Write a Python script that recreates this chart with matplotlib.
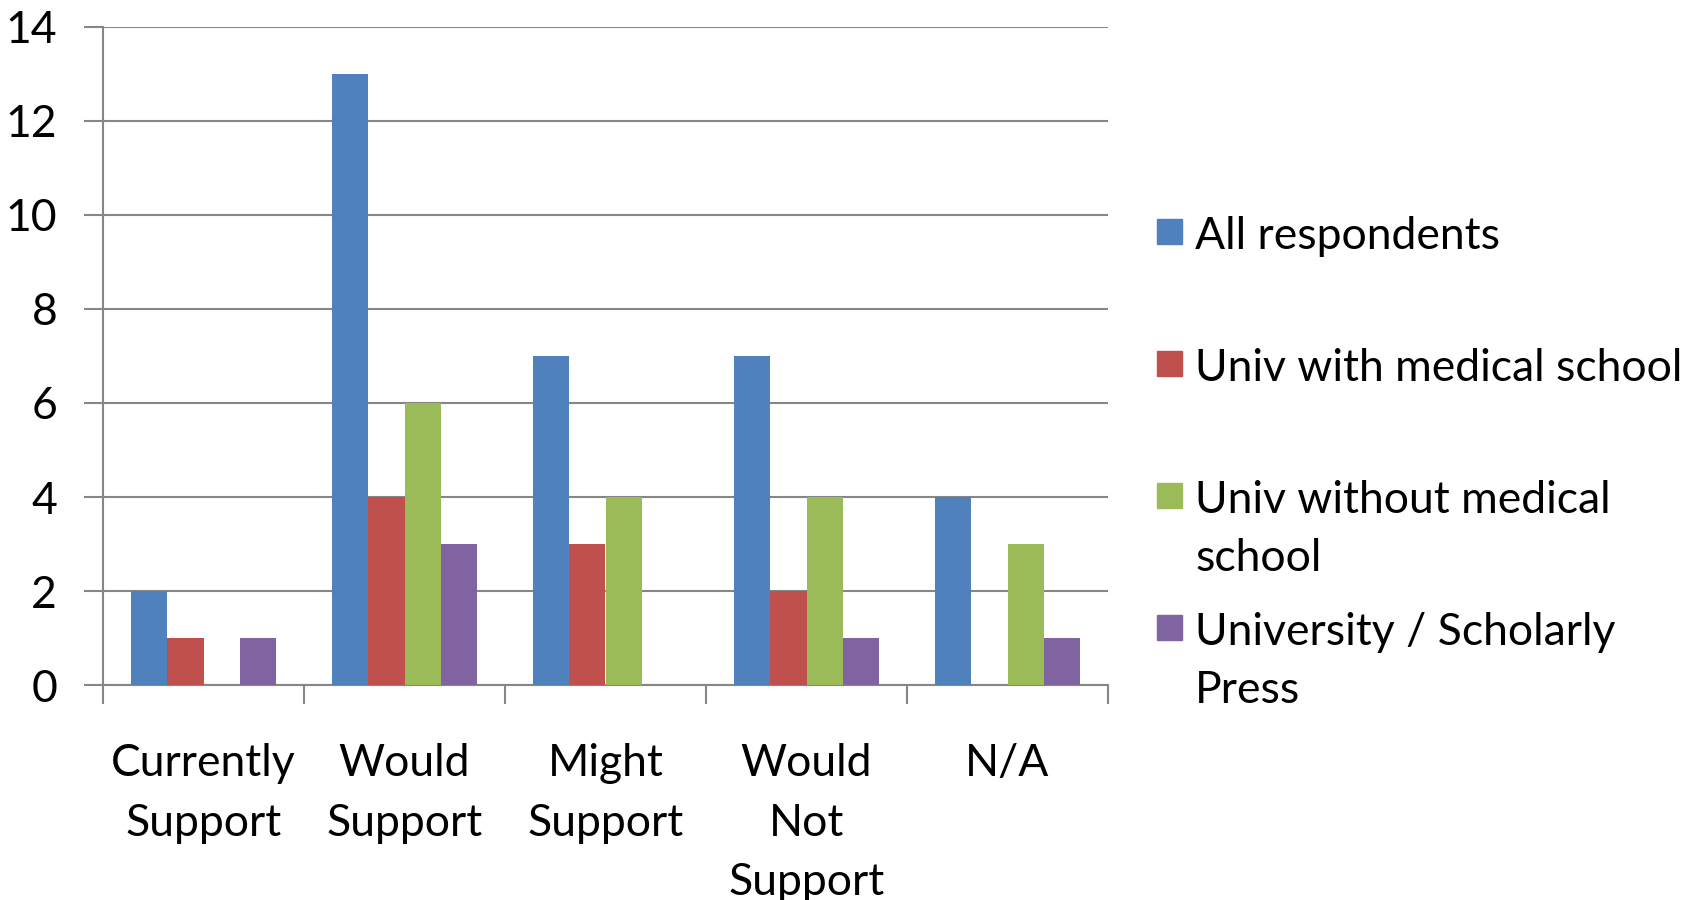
import numpy as np
import matplotlib
matplotlib.use("Agg")
import matplotlib.pyplot as plt
from matplotlib.patches import Rectangle

plt.rcParams['font.family'] = ['Lato', 'DejaVu Sans']

categories = ["Currently\nSupport", "Would\nSupport", "Might\nSupport", "Would\nNot\nSupport", "N/A"]
series_names = ["All respondents", "Univ with medical school",
                "Univ without medical\nschool", "University / Scholarly\nPress"]
all_resp = [2, 13, 7, 7, 4]
with_med = [1, 4, 3, 2, 0]
without_med = [0, 6, 4, 4, 3]
press = [1, 3, 0, 1, 1]
colors = ["#4F81BD", "#C0504D", "#9BBB59", "#8064A2"]

W, H = 1696, 900
fig = plt.figure(figsize=(W / 100, H / 100), dpi=100)
ax = fig.add_axes([103 / W, 1 - 685 / H, (1108 - 103) / W, (685 - 27) / H])

x = np.arange(len(categories))
bw = 0.18
for i, (vals, c) in enumerate(zip([all_resp, with_med, without_med, press], colors)):
    ax.bar(x + (i - 1.5) * bw, vals, width=bw, color=c, zorder=3)

ax.set_xlim(-0.5, len(categories) - 0.5)
ax.set_ylim(0, 14)
ax.set_yticks(range(0, 15, 2))
ax.yaxis.grid(True, color="#868686", linewidth=1.5, zorder=0)

gray = "#868686"
for s in ["top", "right"]:
    ax.spines[s].set_visible(False)
for s in ["left", "bottom"]:
    ax.spines[s].set_color(gray)
    ax.spines[s].set_linewidth(1.5)

fs = 32
ax.tick_params(axis="y", length=14, width=1.5, color=gray, pad=19, labelsize=fs)
ax.set_xticks(x)
ax.set_xticklabels(categories, fontsize=fs, linespacing=1.56)
ax.tick_params(axis="x", which="major", length=0, pad=42)
ax.set_xticks(np.arange(-0.5, len(categories), 1), minor=True)
ax.tick_params(axis="x", which="minor", length=14, width=1.5, color=gray)

# legend drawn by hand to keep Excel-like even spacing
baselines = [249, 381, 513, 645]
line_gap = 58
for name, c, b in zip(series_names, colors, baselines):
    fig.patches.append(Rectangle((1157 / W, 1 - (b - 5) / H), 25 / W, 25 / H,
                                 transform=fig.transFigure, color=c))
    for k, line in enumerate(name.split("\n")):
        fig.text(1195 / W, 1 - (b + k * line_gap) / H, line, fontsize=fs,
                 va="baseline", ha="left")

fig.savefig("out.png", dpi=100)
